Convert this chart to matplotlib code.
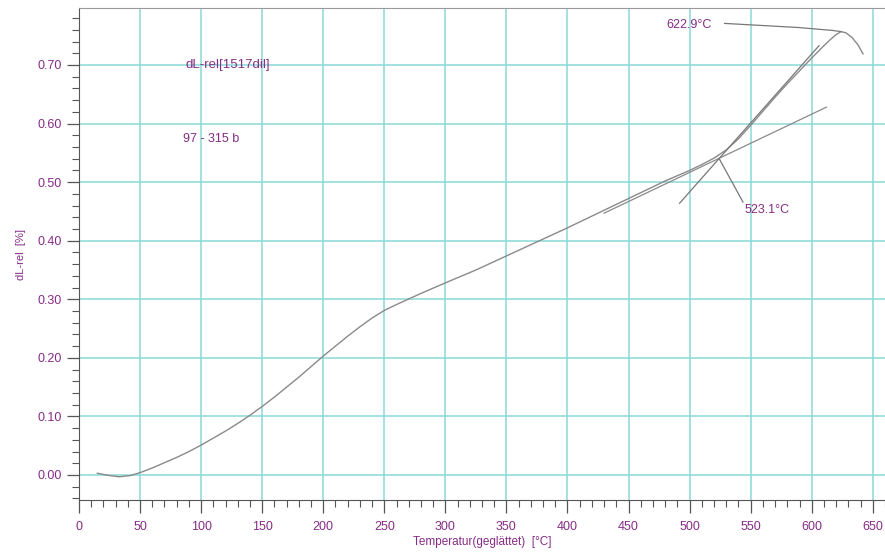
import matplotlib
matplotlib.use("Agg")
import matplotlib.pyplot as plt
from matplotlib.ticker import MultipleLocator, FormatStrFormatter

plt.rcParams['font.family'] = ['Liberation Sans', 'DejaVu Sans']

# ---- data ----
temperature = [15, 25, 33, 42, 50, 60, 70, 80, 90, 100, 110, 120, 130, 140, 150,
               160, 170, 180, 190, 200, 210, 220, 230, 240, 250, 260, 280, 300,
               325, 350, 375, 400, 425, 450, 480, 500, 510, 520, 530, 540, 550,
               560, 570, 580, 590, 600, 609, 615, 620, 624, 628, 633, 638, 642]
dl_rel = [0.003, -0.001, -0.003, -0.001, 0.004, 0.012, 0.021, 0.030, 0.040, 0.051,
          0.063, 0.075, 0.088, 0.102, 0.117, 0.133, 0.150, 0.167, 0.185, 0.203,
          0.220, 0.237, 0.253, 0.268, 0.281, 0.291, 0.310, 0.328, 0.350, 0.374,
          0.398, 0.422, 0.447, 0.472, 0.502, 0.520, 0.530, 0.541, 0.555, 0.574,
          0.597, 0.621, 0.645, 0.668, 0.690, 0.712, 0.731, 0.743, 0.752, 0.757,
          0.755, 0.747, 0.734, 0.719]

tangent_low_T = [430, 612]
tangent_low_y = [0.447, 0.628]
tangent_high_T = [491.8, 606]
tangent_high_y = [0.464, 0.733]

onset_label = "523.1°C"
onset_leader_T = [524.5, 543.7]
onset_leader_y = [0.539, 0.466]

peak_label = "622.9°C"
peak_leader_T = [528.6, 589, 617, 624]
peak_leader_y = [0.771, 0.764, 0.759, 0.757]

x_ticks = list(range(0, 651, 50))
y_ticks = [0.0, 0.1, 0.2, 0.3, 0.4, 0.5, 0.6, 0.7]

purple = '#862c86'
gridc = '#8ad9d9'
curvec = '#8a8a8a'

fig = plt.figure(figsize=(8.85, 5.54), dpi=100)
ax = fig.add_axes([79 / 885, 54 / 554, (885 - 79) / 885, (500 - 8) / 554])

ax.set_xlim(0, 660)
ax.set_ylim(-0.0427, 0.7973)

ax.set_xticks(x_ticks)
ax.set_yticks(y_ticks)
ax.xaxis.set_minor_locator(MultipleLocator(10))
ax.yaxis.set_minor_locator(MultipleLocator(0.02))
ax.yaxis.set_major_formatter(FormatStrFormatter('%.2f'))

ax.grid(True, which='major', color=gridc, lw=1.1)
ax.set_axisbelow(True)

ax.tick_params(axis='both', which='major', direction='out', length=9, width=0.9,
               colors='#555555', labelcolor=purple, labelsize=9)
ax.tick_params(axis='both', which='minor', direction='out', length=5, width=0.8,
               colors='#555555')
ax.tick_params(axis='x', pad=6)

ax.spines['right'].set_visible(False)
ax.spines['top'].set_color('#999999')
ax.spines['left'].set_color('#555555')
ax.spines['bottom'].set_color('#555555')

ax.plot(temperature, dl_rel, color=curvec, lw=1.0)
ax.plot(tangent_low_T, tangent_low_y, color=curvec, lw=0.9)
ax.plot(tangent_high_T, tangent_high_y, color='#777777', lw=0.9)
ax.plot(onset_leader_T, onset_leader_y, color='#777777', lw=0.9)
ax.plot(peak_leader_T, peak_leader_y, color='#777777', lw=0.9)

ax.text(545, 0.452, onset_label, color=purple, fontsize=9, va='center', ha='left')
ax.text(481, 0.768, peak_label, color=purple, fontsize=9, va='center', ha='left')
ax.text(87, 0.70, "dL-rel[1517dil]", color=purple, fontsize=9.5, va='center', ha='left')
ax.text(85, 0.573, "97 - 315 b", color=purple, fontsize=9, va='center', ha='left')

ax.set_xlabel("Temperatur(geglättet)  [°C]", color=purple, fontsize=8.5, labelpad=2)
ax.set_ylabel("dL-rel  [%]", color=purple, fontsize=8, labelpad=8)

fig.savefig("out.png", dpi=100)
